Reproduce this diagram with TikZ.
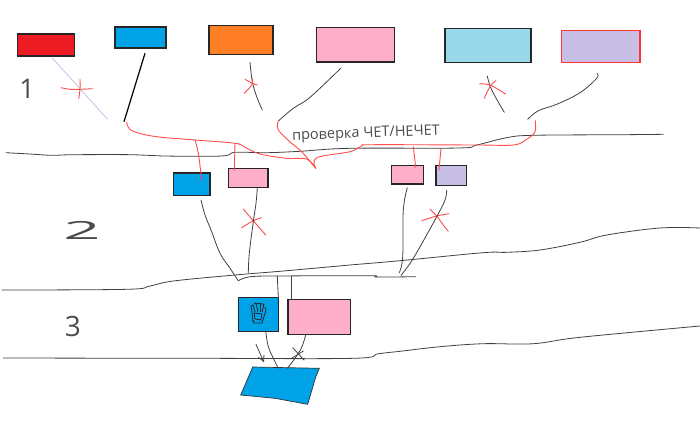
\documentclass[tikz,border=0pt]{standalone}
\usepackage{fontspec}
\setmainfont{Open Sans}
\usetikzlibrary{arrows.meta}
\tikzset{
	box/.style={draw=#1,line width=1.3pt,anchor=north west,inner sep=0pt,outer sep=0pt},
	box/.default={black!85},
	pen/.style={draw=black!75,line width=0.8pt,line cap=round,line join=round},
	redpen/.style={draw=red!70!white,line width=0.9pt,line cap=round,line join=round},
	label/.style={text=black!70,inner sep=0pt}
}
\definecolor{brushred}{HTML}{ED1C24}
\definecolor{brushblue}{HTML}{00A2E8}
\definecolor{brushorange}{HTML}{FF7F27}
\definecolor{brushpink}{HTML}{FFAEC9}
\definecolor{brushsky}{HTML}{99D9EA}
\definecolor{brushlilac}{HTML}{C8BFE7}
\def\sketch[#1]#2;{\draw[#1] plot[smooth,tension=0.6] coordinates {#2};}
\begin{document}
\begin{tikzpicture}[x=1pt,y=-1pt]
	\useasboundingbox (0,0) rectangle (700,429);
	%%%%% top row %%%%%
	\node[box,fill=brushred,minimum width=57pt,minimum height=22pt] (red) at (17.5,34) {};
	\node[box,fill=brushblue,minimum width=51pt,minimum height=21pt] (blue) at (115,27) {};
	\node[box,fill=brushorange,minimum width=64pt,minimum height=29pt] (orange) at (209,25.7) {};
	\node[box,fill=brushpink,minimum width=77.6pt,minimum height=34.5pt] (pink) at (316.7,27.5) {};
	\node[box,fill=brushsky,minimum width=86pt,minimum height=34pt] (sky) at (445,28.7) {};
	\node[box=red!80,fill=brushlilac,minimum width=78.3pt,minimum height=31.6pt] (lilac) at (561.7,30.7) {};
	%%%%% middle row %%%%%
	\node[box,fill=brushblue,minimum width=36.3pt,minimum height=22.3pt] (bluetwo) at (173.7,173) {};
	\node[box,fill=brushpink,minimum width=39.3pt,minimum height=18.6pt] (pinktwo) at (228.7,168.7) {};
	\node[box,fill=brushpink,minimum width=32pt,minimum height=18.3pt] (pinkthree) at (391.7,165.7) {};
	\node[box,fill=brushlilac,minimum width=30.7pt,minimum height=20pt] (lilactwo) at (436,165.7) {};
	%%%%% bottom row %%%%%
	\node[box,fill=brushblue,minimum width=40pt,minimum height=34pt] (bluehand) at (238.3,297.7) {};
	\node[box,fill=brushpink,minimum width=62.3pt,minimum height=35pt] (pinkfour) at (288,299.7) {};
	\draw[fill=brushblue,draw=black!80,line width=0.7pt] (252.7,367) -- (319.3,368.3) -- (315.7,377) -- (307.7,404.3) -- (275,398.3) -- (240.7,395) -- cycle;
	%%%%% level lines %%%%%
	\sketch[pen] (6,152.7) (30,154) (51.7,155.3) (73.3,154.7) (133.3,154.7) (163.3,156) (221.7,156) (235,152.3) (266.7,152.7) (300,151.3) (350,148.3) (458.3,148) (476.7,145) (506.7,137.7) (533.3,135.3) (623.3,134.7) (663.3,134.3);
	\sketch[pen] (1.7,290) (126.7,289.3) (150,286) (173.3,281) (235,275) (283.3,271) (350,265) (400,260.7) (483,252.7) (506.7,252.3) (540,250) (580,242.3) (606.7,235) (660,228) (700,228);
	\sketch[pen] (3.3,358) (200,358.3) (353.3,358.3) (378,353.8) (400,351.3) (440,346.7) (483.3,343.7) (533.3,343.7) (580,337.3) (700,326);
	%%%%% from the top row %%%%%
	\draw[draw=brushlilac,line width=0.8pt] (52.3,58) -- (107.3,119);
	\draw[draw=black,line width=1.2pt] (145,53.3) -- (124,121.7);
	\sketch[pen] (250,62.3) (252.3,81.7) (256.7,96.7) (262.3,110);
	\sketch[pen] (340.7,68.3) (310,97.3) (293.3,108.3) (278.7,120.7);
	\sketch[pen] (487.3,76) (491.7,90) (504.3,112.3);
	\sketch[pen] (597,73.3) (596.7,78.3) (580,92.7) (556.7,104.3) (538.3,110.7) (527.7,119.3);
	%%%%% red route %%%%%
	\sketch[redpen] (126.7,122.3) (128.3,127.3) (135,132) (156.7,136.7) (195,140) (235,143.3) (245,147.3) (260,154) (286.7,158.3) (306.7,159) (315.7,168.3);
	\sketch[redpen] (278.3,120.7) (278.3,130) (291.7,143.3) (301.7,151.7) (315.7,168.3);
	\sketch[redpen] (315.7,168.3) (316.7,157.7) (350,151.7) (361.7,146) (373.3,144.7) (476.7,145) (513.3,145) (526.7,139.3) (535,131.7) (535.3,120.7);
	\sketch[redpen] (195,140) (198.3,153.3) (201.7,180);
	\sketch[redpen] (235,143.3) (234.3,170);
	\sketch[redpen] (413.3,146.7) (415.7,167.3);
	\sketch[redpen] (441,148.3) (439,170);
	%%%%% crosses %%%%%
	\sketch[redpen] (61,87.7) (70,89.3) (80,89.3) (92.7,88.7);
	\sketch[redpen] (80,79.3) (80,89.3) (78.7,98.7);
	\sketch[redpen] (245,79.3) (252.3,83.3) (257.3,85);
	\sketch[redpen] (252.7,78.3) (251.7,85) (244.3,93.3);
	\sketch[redpen] (479.3,84) (490,85) (505.7,94);
	\sketch[redpen] (495.7,80.7) (490,86.7) (484.3,98.3);
	\sketch[redpen] (243.3,209) (253.3,220.7) (265.7,235);
	\sketch[redpen] (241.7,227.7) (253.3,220.7) (261.7,217.7);
	\sketch[redpen] (421.7,220.7) (436.7,216) (449,213.7);
	\sketch[redpen] (430,209.3) (436.7,216) (443.3,225) (448.3,231.3);
	%%%%% from the middle row %%%%%
	\sketch[pen] (201,200) (205,215) (211.7,231.7) (220,253.3) (230,268.3) (238.3,280.7);
	\sketch[pen] (238.3,280.7) (250,276.7) (276.7,276) (370,275.7) (376.7,277) (415.7,276.7);
	\sketch[pen] (257.3,188) (256,203.3) (253.3,221.7) (249.3,253.3) (248.3,272.7);
	\sketch[pen] (407.3,187.7) (403.3,210) (402.7,256.7) (399.3,272.7);
	\sketch[pen] (446.7,190) (445,200) (436.7,216.7) (413.3,258.3) (401,275.3);
	\draw[pen] (277.3,276) -- (bluehand.north east);
	\draw[pen] (291,276) -- (291,299.7);
	%%%%% from the bottom row %%%%%
	\sketch[pen] (265.7,330.7) (268.3,346.7) (275,361.7) (278.3,368.3);
	\sketch[pen] (305.7,335) (301.7,347.3) (295,358.3) (287.3,368.3);
	\draw[pen] (292.7,347.7) -- (304,360);
	\draw[pen] (303.3,351) -- (291.7,358.3);
	\draw[pen,-{Straight Barb[length=6pt,width=6pt]}] (256,344.3) -- (264,362.3);
	%%%%% hand %%%%%
	\begin{scope}[line width=0.8pt,draw=black!85]
		\draw (253,322) -- (252,312) -- (251,306) -- (253,305) -- (255,312);
		\draw (254,304) -- (256,303) -- (258,312);
		\draw (257,303) -- (260,303) -- (260,312);
		\draw (261,304) -- (264,304) -- (262,312);
		\draw (265,307) -- (266,310) -- (262,323) -- (254,323) -- (253,320);
		\draw (254,313) -- (262,314) -- (261,320) -- (255,319) -- cycle;
	\end{scope}
	%%%%% texts %%%%%
	\node[label,font=\fontsize{27}{27}\selectfont] (one) at (27,89) {1};
	\node[label,font=\fontsize{25}{25}\selectfont,xscale=2.6] (two) at (82,230) {2};
	\node[label,font=\fontsize{28}{28}\selectfont] (three) at (73,326) {3};
	\node[label,font=\fontsize{14.5}{14.5}\selectfont,rotate=2] (check) at (366,134) {проверка ЧЕТ/НЕЧЕТ};
\end{tikzpicture}
\end{document}
